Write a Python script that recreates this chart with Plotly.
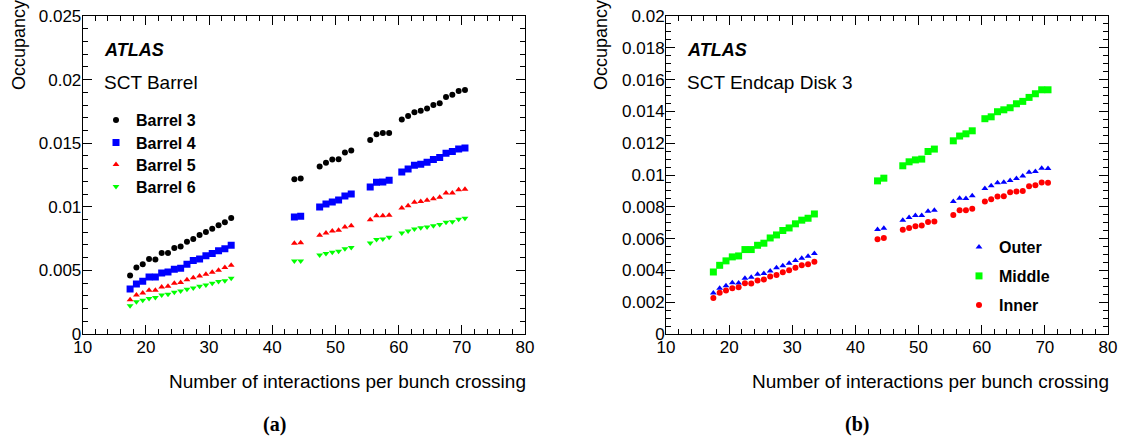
import plotly.graph_objects as go

W, H = 1121, 437

# ---------------- data ----------------
mu = [17.5, 18.5, 19.5, 20.5, 21.5, 22.5, 23.5, 24.5, 25.5, 26.5, 27.5, 28.5, 29.5, 30.5, 31.5, 32.5, 33.5,
      43.5, 44.5,
      47.5, 48.5, 49.5, 50.5, 51.5, 52.5,
      55.5, 56.5, 57.5, 58.5,
      60.5, 61.5, 62.5, 63.5, 64.5, 65.5, 66.5, 67.5, 68.5, 69.5, 70.5]

barrel3 = [0.00459, 0.00522, 0.00548, 0.00590, 0.00585, 0.00637, 0.00637, 0.00676, 0.00687, 0.00726, 0.00747,
           0.00779, 0.00802, 0.00828, 0.00855, 0.00878, 0.00912,
           0.01216, 0.01222,
           0.01316, 0.01347, 0.01371, 0.01374, 0.01426, 0.01442,
           0.01526, 0.01570, 0.01581, 0.01581,
           0.01686, 0.01714, 0.01743, 0.01756, 0.01772, 0.01801, 0.01814, 0.01864, 0.01880, 0.01911, 0.01919]
barrel4 = [0.00354, 0.00393, 0.00414, 0.00448, 0.00448, 0.00480, 0.00488, 0.00509, 0.00516, 0.00548, 0.00577,
           0.00590, 0.00616, 0.00632, 0.00655, 0.00671, 0.00697,
           0.00920, 0.00925,
           0.00999, 0.01022, 0.01038, 0.01054, 0.01085, 0.01101,
           0.01156, 0.01193, 0.01195, 0.01208,
           0.01274, 0.01297, 0.01326, 0.01334, 0.01350, 0.01371, 0.01387, 0.01421, 0.01434, 0.01455, 0.01463]
barrel5 = [0.00270, 0.00307, 0.00322, 0.00343, 0.00343, 0.00370, 0.00375, 0.00398, 0.00404, 0.00427, 0.00443,
           0.00456, 0.00469, 0.00485, 0.00501, 0.00522, 0.00540,
           0.00713, 0.00718,
           0.00776, 0.00794, 0.00810, 0.00815, 0.00841, 0.00852,
           0.00899, 0.00930, 0.00930, 0.00933,
           0.00991, 0.01009, 0.01035, 0.01041, 0.01051, 0.01064, 0.01075, 0.01109, 0.01109, 0.01135, 0.01138]
barrel6 = [0.00223, 0.00254, 0.00265, 0.00280, 0.00286, 0.00307, 0.00312, 0.00328, 0.00338, 0.00351, 0.00362,
           0.00375, 0.00385, 0.00398, 0.00412, 0.00419, 0.00438,
           0.00574, 0.00574,
           0.00621, 0.00632, 0.00642, 0.00650, 0.00671, 0.00681,
           0.00716, 0.00742, 0.00747, 0.00760,
           0.00794, 0.00810, 0.00826, 0.00836, 0.00841, 0.00852, 0.00860, 0.00878, 0.00883, 0.00902, 0.00910]

outer = [0.00258, 0.00288, 0.00304, 0.00323, 0.00321, 0.00350, 0.00357, 0.00376, 0.00380, 0.00397, 0.00416,
         0.00430, 0.00445, 0.00462, 0.00476, 0.00489, 0.00506,
         0.00657, 0.00665,
         0.00716, 0.00732, 0.00745, 0.00745, 0.00772, 0.00779,
         0.00833, 0.00854, 0.00852, 0.00869,
         0.00915, 0.00932, 0.00951, 0.00955, 0.00965, 0.00978, 0.00993, 0.01018, 0.01022, 0.01043, 0.01041]
middle = [0.00390, 0.00432, 0.00460, 0.00485, 0.00491, 0.00531, 0.00531, 0.00558, 0.00571, 0.00604, 0.00623,
          0.00651, 0.00667, 0.00693, 0.00716, 0.00728, 0.00755,
          0.00963, 0.00980,
          0.01058, 0.01083, 0.01095, 0.01100, 0.01148, 0.01163,
          0.01215, 0.01245, 0.01259, 0.01278,
          0.01354, 0.01366, 0.01398, 0.01410, 0.01423, 0.01448, 0.01463, 0.01488, 0.01511, 0.01536, 0.01536]
inner = [0.00227, 0.00260, 0.00273, 0.00288, 0.00294, 0.00319, 0.00317, 0.00336, 0.00342, 0.00361, 0.00371,
         0.00388, 0.00401, 0.00416, 0.00432, 0.00439, 0.00455,
         0.00596, 0.00604,
         0.00655, 0.00667, 0.00678, 0.00682, 0.00705, 0.00707,
         0.00749, 0.00779, 0.00779, 0.00787,
         0.00833, 0.00848, 0.00865, 0.00867, 0.00892, 0.00896, 0.00900, 0.00930, 0.00936, 0.00953, 0.00951]

y1_tickvals = [0, 0.005, 0.01, 0.015, 0.02, 0.025]
y1_ticktext = ["0", "0.005", "0.01", "0.015", "0.02", "0.025"]
y2_tickvals = [0, 0.002, 0.004, 0.006, 0.008, 0.01, 0.012, 0.014, 0.016, 0.018, 0.02]
y2_ticktext = ["0", "0.002", "0.004", "0.006", "0.008", "0.01", "0.012", "0.014", "0.016", "0.018", "0.02"]

# ---------------- helpers ----------------
def px(p):
    return p / W


def py(p):
    return 1 - p / H


FONT = "Liberation Sans, Arial, Helvetica, sans-serif"
BLUE = "rgb(0,0,255)"
GREEN = "rgb(0,255,0)"
RED = "rgb(255,0,0)"

fig = go.Figure()

# (name, values, symbol, colour, size, legend-id, legend top-left position in px)
left_series = [
    ("Barrel 3", barrel3, "circle", "black", 6, "legend", (96, 103)),
    ("Barrel 4", barrel4, "square", BLUE, 7, "legend2", (96, 125.5)),
    ("Barrel 5", barrel5, "triangle-up", RED, 6, "legend3", (96, 147.5)),
    ("Barrel 6", barrel6, "triangle-down", GREEN, 6, "legend4", (96, 169.5)),
]
right_series = [
    ("Outer", outer, "triangle-up", BLUE, 6, "legend5", (959, 230)),
    ("Middle", middle, "square", GREEN, 7, "legend6", (959, 259)),
    ("Inner", inner, "circle", RED, 6, "legend7", (959, 288)),
]

legend_layouts = {}
for series, xa, ya in ((left_series, "x", "y"), (right_series, "x2", "y2")):
    for name, vals, sym, col, sz, leg, (lx, ly) in series:
        fig.add_trace(go.Scatter(x=mu, y=vals, mode="markers", name=name,
                                 marker=dict(symbol=sym, color=col, size=sz, line=dict(width=0)),
                                 xaxis=xa, yaxis=ya, legend=leg))
        legend_layouts[leg] = dict(x=px(lx), y=py(ly), xanchor="left", yanchor="top",
                                   bgcolor="rgba(0,0,0,0)", borderwidth=0,
                                   font=dict(family=FONT, size=16, color="black", weight="bold"),
                                   itemsizing="trace")

common_x = dict(range=[10, 80], dtick=10, tick0=0, ticks="inside", ticklen=9, tickwidth=1, tickcolor="black",
                minor=dict(dtick=2, tick0=0, ticks="inside", ticklen=5, tickwidth=1, tickcolor="black"),
                showline=True, linecolor="black", linewidth=1, mirror="ticks", showgrid=False, zeroline=False,
                tickfont=dict(family=FONT, size=17, color="black"), automargin=False, ticklabelstandoff=-2)
common_y = dict(ticks="inside", ticklen=9, tickwidth=1, tickcolor="black", tickmode="array",
                showline=True, linecolor="black", linewidth=1, mirror="ticks", showgrid=False, zeroline=False,
                tickfont=dict(family=FONT, size=17, color="black"), automargin=False, ticklabelstandoff=-3)

ydom = [py(334), py(16)]
fig.update_layout(
    width=W, height=H, autosize=False,
    margin=dict(l=0, r=0, t=0, b=0),
    paper_bgcolor="white", plot_bgcolor="white",
    xaxis=dict(domain=[px(82.7), px(525)], anchor="y", **common_x),
    yaxis=dict(domain=ydom, anchor="x", range=[0, 0.025], tickvals=y1_tickvals, ticktext=y1_ticktext,
               minor=dict(dtick=0.001, tick0=0, ticks="inside", ticklen=5, tickwidth=1, tickcolor="black"),
               **common_y),
    xaxis2=dict(domain=[px(666), px(1108)], anchor="y2", **common_x),
    yaxis2=dict(domain=ydom, anchor="x2", range=[0, 0.02], tickvals=y2_tickvals, ticktext=y2_ticktext,
                minor=dict(dtick=0.0005, tick0=0, ticks="inside", ticklen=5, tickwidth=1, tickcolor="black"),
                **common_y),
    showlegend=True,
    **legend_layouts,
)

annos = [
    dict(text="<b><i>ATLAS</i></b>", x=px(102), y=py(50), size=18, xa="left", ya="middle"),
    dict(text="SCT Barrel", x=px(102), y=py(82), size=19, xa="left", ya="middle"),
    dict(text="<b><i>ATLAS</i></b>", x=px(685), y=py(50), size=18, xa="left", ya="middle"),
    dict(text="SCT Endcap Disk 3", x=px(685), y=py(82), size=19, xa="left", ya="middle"),
    dict(text="Number of interactions per bunch crossing", x=px(528), y=py(381), size=19, xa="right", ya="middle"),
    dict(text="Number of interactions per bunch crossing", x=px(1111), y=py(381), size=19, xa="right", ya="middle"),
]
for a in annos:
    fig.add_annotation(text=a["text"], x=a["x"], y=a["y"], xref="paper", yref="paper",
                       xanchor=a["xa"], yanchor=a["ya"], showarrow=False,
                       font=dict(family=FONT, size=a["size"], color="black"))

for xc in (19, 601):
    fig.add_annotation(text="Occupancy", x=px(xc), y=py(-2), xref="paper", yref="paper",
                       xanchor="center", yanchor="top", textangle=-90, showarrow=False,
                       font=dict(family=FONT, size=18, color="black"))

for label, xc in (("(a)", 274), ("(b)", 857)):
    fig.add_annotation(text="<b>" + label + "</b>", x=px(xc), y=py(424), xref="paper", yref="paper",
                       xanchor="center", yanchor="middle", showarrow=False,
                       font=dict(family="Liberation Serif, Times New Roman, serif", size=20, color="black"))

fig.write_html("out.html", config={"displayModeBar": False},
               post_script="document.body.style.margin='0px';document.body.style.overflow='hidden';")
